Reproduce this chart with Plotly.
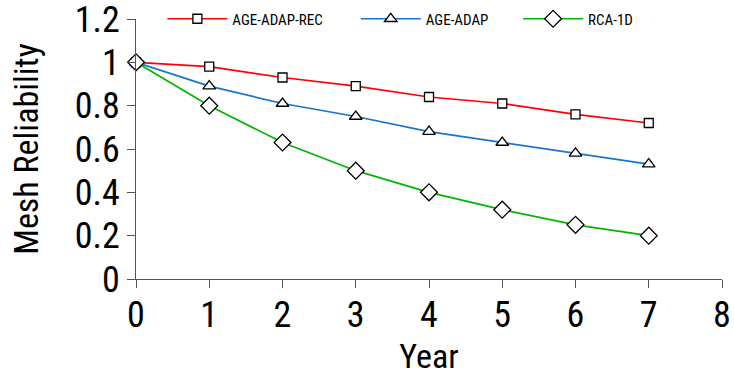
import plotly.graph_objects as go

# Reliability of the mesh over time for three reconfiguration schemes
years = [0, 1, 2, 3, 4, 5, 6, 7]
age_adap_rec = [1.00, 0.98, 0.93, 0.89, 0.84, 0.81, 0.76, 0.72]
age_adap = [1.00, 0.89, 0.81, 0.75, 0.68, 0.63, 0.58, 0.53]
rca_1d = [1.00, 0.80, 0.63, 0.50, 0.40, 0.32, 0.25, 0.20]

series_names = ["AGE-ADAP-REC", "AGE-ADAP", "RCA-1D"]
x_ticks = [0, 1, 2, 3, 4, 5, 6, 7, 8]
y_ticks = [0, 0.2, 0.4, 0.6, 0.8, 1.0, 1.2]
y_tick_text = ["0", "0.2", "0.4", "0.6", "0.8", "1", "1.2"]

FONT = "Roboto Condensed, Liberation Sans, Arial, sans-serif"
AXIS_GREY = "#555555"

styles = [
    dict(color="#ff0000", symbol="square", size=9, legend="legend"),
    dict(color="#1874cd", symbol="triangle-up", size=11, legend="legend2"),
    dict(color="#00b400", symbol="diamond", size=13, legend="legend3"),
]

fig = go.Figure()
for name, values, st in zip(series_names, [age_adap_rec, age_adap, rca_1d], styles):
    fig.add_trace(go.Scatter(
        x=years, y=values, name=name, mode="lines+markers",
        line=dict(color=st["color"], width=1.7),
        marker=dict(symbol=st["symbol"], size=st["size"],
                    color="white", line=dict(color="black", width=1.3)),
        cliponaxis=False, legend=st["legend"],
    ))

# one legend per series so each entry can sit at its own place along the top
legend_common = dict(
    orientation="h", y=1.0, yanchor="middle", xanchor="left",
    font=dict(size=15, family=FONT), bgcolor="rgba(0,0,0,0)", itemwidth=60,
)
fig.update_layout(
    width=734, height=376,
    margin=dict(l=136, r=12, t=19, b=97, autoexpand=False),
    paper_bgcolor="white", plot_bgcolor="white",
    font=dict(family=FONT, color="black"),
    showlegend=True,
    legend=dict(x=0.045, **legend_common),
    legend2=dict(x=0.375, **legend_common),
    legend3=dict(x=0.652, **legend_common),
    xaxis=dict(
        range=[0, 8], tickvals=x_ticks, ticks="outside", ticklen=8,
        tickcolor=AXIS_GREY, showline=True, linecolor=AXIS_GREY, linewidth=1,
        showgrid=False, zeroline=False, tickfont=dict(size=36, family=FONT),
        title=dict(text="Year", font=dict(size=34, family=FONT), standoff=14),
        ticklabelstandoff=-4, automargin=False, ticklabeloverflow="allow",
    ),
    yaxis=dict(
        range=[0, 1.2], tickvals=y_ticks, ticktext=y_tick_text, ticks="outside",
        ticklen=8, tickcolor=AXIS_GREY, showline=True, linecolor=AXIS_GREY,
        linewidth=1, showgrid=False, zeroline=False,
        tickfont=dict(size=36, family=FONT),
        title=dict(text="Mesh Reliability", font=dict(size=34, family=FONT), standoff=25),
        ticklabelstandoff=0, automargin=False, ticklabeloverflow="allow",
    ),
)

fig.write_html("out.html")
